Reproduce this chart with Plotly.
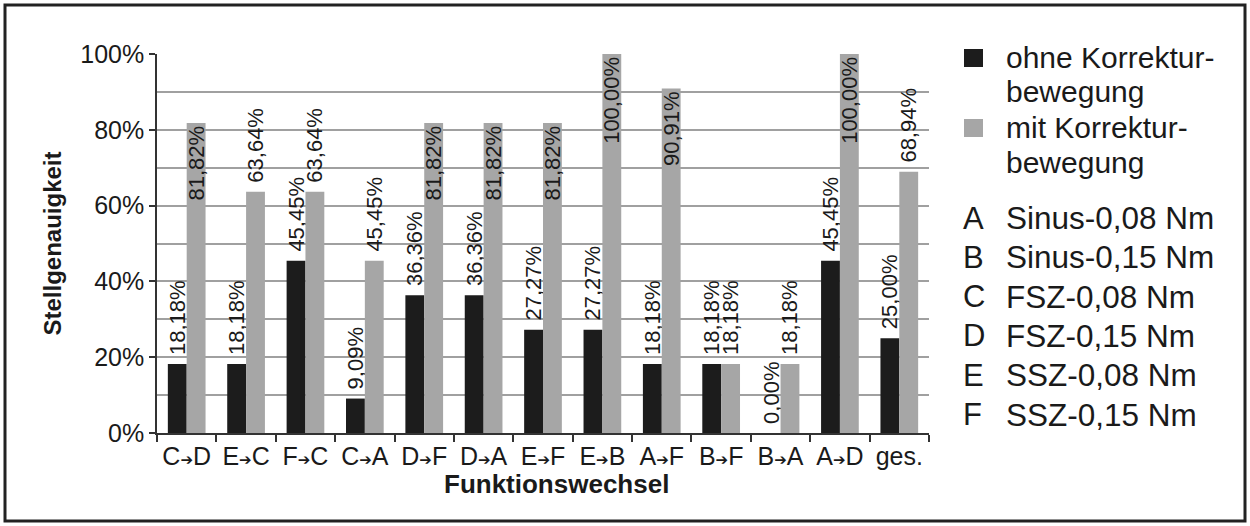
import plotly.graph_objects as go

# ---- data ----
categories = ["C➔D", "E➔C", "F➔C", "C➔A", "D➔F", "D➔A", "E➔F", "E➔B",
              "A➔F", "B➔F", "B➔A", "A➔D", "ges."]
ohne_korrektur = [18.18, 18.18, 45.45, 9.09, 36.36, 36.36, 27.27, 27.27,
                  18.18, 18.18, 0.00, 45.45, 25.00]
mit_korrektur = [81.82, 63.64, 63.64, 45.45, 81.82, 81.82, 81.82, 100.00,
                 90.91, 18.18, 18.18, 100.00, 68.94]
series_names = ["ohne Korrektur-<br>bewegung", "mit Korrektur-<br>bewegung"]
key_letters = ["A", "B", "C", "D", "E", "F"]
key_labels = ["Sinus-0,08 Nm", "Sinus-0,15 Nm", "FSZ-0,08 Nm",
              "FSZ-0,15 Nm", "SSZ-0,08 Nm", "SSZ-0,15 Nm"]
y_ticks = [0, 0.2, 0.4, 0.6, 0.8, 1.0]
x_title = "Funktionswechsel"
y_title = "Stellgenauigkeit"

FONT = "Arial, 'Liberation Sans', sans-serif"
BLACK = "#1c1c1c"
GRAY = "#a6a6a6"
TXT = "#1a1a1a"


def tick_label(c):
    if "➔" in c:
        a, b = c.split("➔")
        return a + "<span style='font-size:15px;font-family:DejaVu Sans'>➔</span>" + b
    return c


xlabels = [tick_label(c) for c in categories]


def positions(vals):
    # label inside the bar top when it would not fit above the bar
    return ["inside" if v > 75 else "outside" for v in vals]


def fmt(v, pos):
    s = f"{v:.2f}".replace(".", ",") + "%"
    # small lead-in gap so outside labels sit a little above the bar
    return ("\u00a0" + s) if pos == "outside" else s


fig = go.Figure()
for name, vals, col in [(series_names[0], ohne_korrektur, BLACK),
                        (series_names[1], mit_korrektur, GRAY)]:
    pos = positions(vals)
    fig.add_trace(go.Bar(
        x=xlabels, y=[v / 100 for v in vals], name=name,
        marker=dict(color=col, line=dict(width=0)),
        text=[fmt(v, p) for v, p in zip(vals, pos)],
        textposition=pos,
        insidetextanchor="end",
        textangle=-90,
        constraintext="none",
        cliponaxis=False,
        textfont=dict(family=FONT, size=22, color=TXT),
        showlegend=False,
    ))

fig.update_layout(
    width=1250, height=526,
    margin=dict(l=157, r=321, t=54, b=93),
    paper_bgcolor="white", plot_bgcolor="white",
    barmode="group", bargap=0.365, bargroupgap=0,
    font=dict(family=FONT, color=TXT),
    showlegend=False,
)
fig.update_xaxes(
    type="category", tickson="boundaries", ticks="outside", ticklen=7,
    tickwidth=1.5, tickcolor="#333", showline=True, linecolor="#333",
    linewidth=1.5, showgrid=False,
    tickfont=dict(family=FONT, size=25, color=TXT),
)
fig.update_yaxes(
    range=[0, 1], tickvals=y_ticks, tickformat=".0%", ticks="outside",
    ticklen=6, tickwidth=1.5, tickcolor="#333", showline=True,
    linecolor="#333", linewidth=1.5, showgrid=True, gridcolor="#a0a0a0",
    gridwidth=1.5, zeroline=False,
    minor=dict(dtick=0.1, showgrid=True, gridcolor="#a0a0a0", gridwidth=1.5),
    tickfont=dict(family=FONT, size=25, color=TXT),
    title=dict(text="<b>" + y_title + "</b>", standoff=12,
               font=dict(family=FONT, size=24, color=TXT)),
)

# ---- manual legend / key (paper coordinates derived from pixels) ----
PW, PH, L, T0 = 772.0, 379.0, 157.0, 433.0


def px(x):
    return (x - L) / PW


def py(y):
    return (T0 - y) / PH


shapes = []
annos = []
# x-axis title (slightly right of the axis centre, as in the reference)
annos.append(dict(text="<b>" + x_title + "</b>", xref="paper", yref="paper",
                  x=px(556), y=py(484), xanchor="center", yanchor="middle",
                  showarrow=False, font=dict(family=FONT, size=26, color=TXT)))

leg_rows = [(58, BLACK, series_names[0]), (128, GRAY, series_names[1])]
for yc, col, name in leg_rows:
    shapes.append(dict(type="rect", xref="paper", yref="paper",
                       x0=px(964), x1=px(983), y0=py(yc + 9), y1=py(yc - 9),
                       fillcolor=col, line=dict(width=0)))
    for k, ln in enumerate(name.split("<br>")):
        annos.append(dict(text=ln, xref="paper", yref="paper", x=px(1004),
                          y=py(yc - 1 + 35 * k), xanchor="left",
                          yanchor="middle", showarrow=False,
                          font=dict(family=FONT, size=30, color=TXT)))

for i, (let, lab) in enumerate(zip(key_letters, key_labels)):
    yy = 218 + i * 39.3
    annos.append(dict(text=let, xref="paper", yref="paper", x=px(961),
                      y=py(yy), xanchor="left", yanchor="middle",
                      showarrow=False, font=dict(family=FONT, size=31, color=TXT)))
    annos.append(dict(text=lab, xref="paper", yref="paper", x=px(1004),
                      y=py(yy), xanchor="left", yanchor="middle",
                      showarrow=False, font=dict(family=FONT, size=31.5, color=TXT)))

# outer frame
shapes.append(dict(type="rect", xref="paper", yref="paper",
                   x0=px(5), x1=px(1245), y0=py(521), y1=py(5),
                   line=dict(color="#222", width=3), fillcolor="rgba(0,0,0,0)"))

fig.update_layout(shapes=shapes, annotations=annos)
fig.write_html("out.html", config={"displayModeBar": False},
               post_script="document.body.style.margin='0';document.body.style.overflow='hidden';")
